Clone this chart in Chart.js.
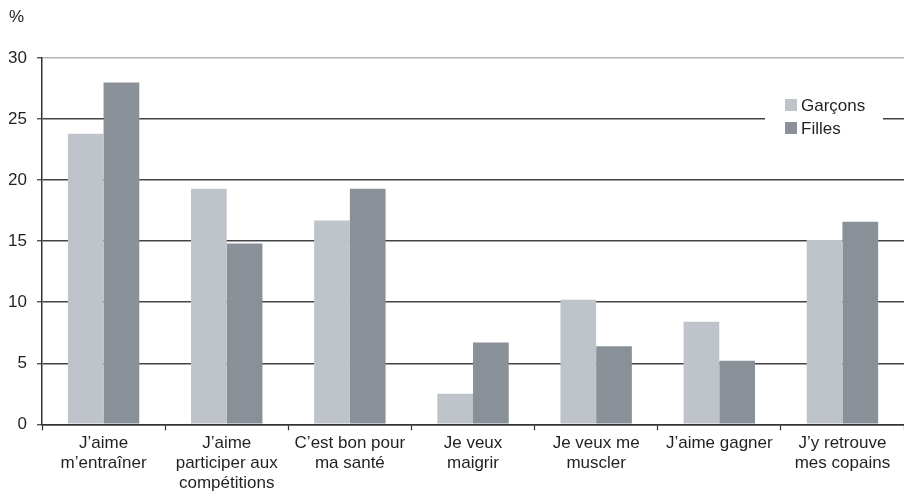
<!DOCTYPE html>
<html>
<head>
<meta charset="utf-8">
<script src="https://cdn.jsdelivr.net/npm/chart.js@4/dist/chart.umd.min.js"></script>
<style>
  html, body { margin: 0; padding: 0; background: #ffffff; }
  #wrap { width: 904px; height: 497px; position: relative; }
</style>
</head>
<body>
<div id="wrap"><canvas id="c"></canvas></div>
<script>
const categories = [
  ["J’aime", "m’entraîner"],
  ["J’aime", "participer aux", "compétitions"],
  ["C’est bon pour", "ma santé"],
  ["Je veux", "maigrir"],
  ["Je veux me", "muscler"],
  ["J’aime gagner"],
  ["J’y retrouve", "mes copains"]
];
const seriesNames = ["Garçons", "Filles"];
const garcons = [23.8, 19.3, 16.7, 2.5, 10.2, 8.4, 15.1];
const filles  = [28.0, 14.8, 19.3, 6.7, 6.4, 5.2, 16.6];
const yTicks = [0, 5, 10, 15, 20, 25, 30];
const unitLabel = "%";

const FONT = "'Liberation Sans', Arial, Helvetica, sans-serif";
const LIGHT = "#bfc3ca";
const DARK = "#8a9097";
const TEXT = "#231f20";

const insideLegend = {
  id: 'insideLegend',
  afterDraw(chart) {
    const ctx = chart.ctx;
    const x0 = 765, x1 = 883;
    ctx.save();
    ctx.fillStyle = '#ffffff';
    ctx.fillRect(x0, 92, x1 - x0, 48);
    ctx.font = '17px ' + FONT;
    ctx.textBaseline = 'middle';
    ctx.textAlign = 'left';
    chart.data.datasets.forEach((ds, i) => {
      const cy = 105 + i * 23;
      ctx.fillStyle = ds.backgroundColor;
      ctx.fillRect(785, cy - 6, 12, 12);
      ctx.fillStyle = TEXT;
      ctx.fillText(ds.label, 801, cy + 1);
    });
    ctx.restore();
  }
};

new Chart(document.getElementById('c'), {
  type: 'bar',
  data: {
    labels: categories,
    datasets: [
      { label: seriesNames[0], data: garcons, backgroundColor: LIGHT, borderWidth: 0 },
      { label: seriesNames[1], data: filles, backgroundColor: DARK, borderWidth: 0 }
    ]
  },
  options: {
    responsive: true,
    maintainAspectRatio: false,
    animation: false,
    devicePixelRatio: 1,
    layout: { padding: { left: 9, right: 0, top: 0, bottom: 1 } },
    datasets: { bar: { categoryPercentage: 0.58, barPercentage: 1.0 } },
    plugins: {
      legend: { display: false },
      tooltip: { enabled: false },
      title: {
        display: true,
        text: unitLabel,
        align: 'start',
        color: TEXT,
        font: { family: FONT, size: 17, weight: 'normal', lineHeight: 1.2 },
        padding: { top: 7, bottom: 30.6 }
      }
    },
    scales: {
      x: {
        offset: true,
        grid: {
          offset: true,
          drawOnChartArea: false,
          drawTicks: true,
          tickLength: 6,
          tickColor: '#333333',
          tickWidth: 1.2
        },
        border: { display: true, color: '#333333', width: 1.5 },
        ticks: {
          color: TEXT,
          font: { family: FONT, size: 17, lineHeight: 1.17 },
          padding: 3,
          maxRotation: 0,
          autoSkip: false
        }
      },
      y: {
        min: 0,
        max: 30,
        afterBuildTicks(scale) { scale.ticks = yTicks.map(v => ({ value: v })); },
        afterFit(scale) { scale.width = 33; },
        grid: {
          drawTicks: true,
          tickLength: 5,
          tickColor: '#333333',
          tickWidth: 1.2,
          color: (c) => (c.tick && c.tick.value === 30) ? '#b5b5b5' : '#444444',
          lineWidth: 1.5
        },
        border: { display: true, color: '#333333', width: 1.5 },
        ticks: {
          color: TEXT,
          font: { family: FONT, size: 17 },
          padding: 10
        }
      }
    }
  },
  plugins: [insideLegend]
});
</script>
</body>
</html>
